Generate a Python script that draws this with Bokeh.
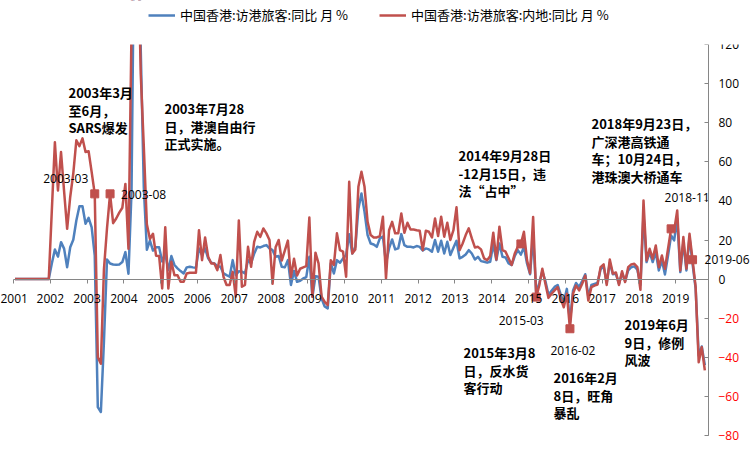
from bokeh.plotting import figure
from bokeh.models import (Range1d, FixedTicker, LinearAxis, Label, Legend, LegendItem,
                          ColumnDataSource, BoxAnnotation)
from bokeh.embed import file_html
from bokeh.resources import INLINE

# ---------------- data ----------------
year_labels = ["2001", "2002", "2003", "2004", "2005", "2006", "2007", "2008", "2009", "2010",
               "2011", "2012", "2013", "2014", "2015", "2016", "2017", "2018", "2019"]

# 中国香港:访港旅客:同比 (monthly, 2001-01 .. 2019-10)
total_yoy = [
    0, 0, 0, 0, 0, 0, 0, 0, 0, 0, 0, 0,                                   # 2001
    8, 15.1, 11.5, 18.9, 15.6, 6.1, 16.3, 20.1, 30, 37.3, 37.3, 28.3,      # 2002
    31.3, 26.5, 12, -65.5, -68, -32, 10, 8, 7.5, 7.3, 7.5, 8.7,            # 2003
    13.8, 2.7, 45, 200, 210, 118, 47, 15, 19.7, 14.6, 16.3, 16.3,          # 2004
    9, 13, 4.6, 11.8, 7.2, 5.5, 4.1, 2.9, 6, 6.3, 6, 5.8,                  # 2005
    15.7, 12.3, 15.7, 10.6, 8.4, 8, 6.6, 6.3, 2.9, 2, 1.2, 9.7,            # 2006
    2, 4, 3.8, 2.9, 9.7, 8, 13, 16.5, 16.2, 16.9, 17.4, 15.7,              # 2007
    14.8, 11.4, 11.8, 6.3, 6, 9.7, -3, 4.1, -1.4, -0.9, 0.3, 1,            # 2008
    11.4, -9, 1.5, 1.2, -10, -14, -15, 8, 2.9, 9.7, 8.4, 10.6,             # 2009
    12.3, 23, 13.1, 16.5, 36, 43.8, 34.4, 22.5, 18.2, 17.7, 16.5, 20.8,    # 2010
    21.7, 8, 15.7, 20.3, 15.2, 15.7, 23, 17.4, 16.5, 16.5, 16.2, 16.9,     # 2011
    16.5, 14.6, 15.7, 15.2, 14, 20, 14, 19.6, 13.1, 19.1, 12.3, 16,        # 2012
    19.6, 10.6, 11.4, 12.6, 14.8, 13.1, 10, 11.4, 9.2, 8.9, 8.4, 8.9,      # 2013
    17.9, 9.7, 18.2, 11.4, 11.1, 8, 7.2, 11.8, 14.8, 12.5, 16.5, 8,        # 2014
    2.5, 22, -7, -2, 4, -1, -8, -6, -4, -3, -8, -12,                       # 2015
    -5, -22, -6, -2, -4, -1, 2.5, -9, -3, -2.5, -2, 5,                     # 2016
    6.5, -2, 8.5, 2.5, 2.7, -2.4, 3, -1, 4.4, 6.1, 6.5, 4.8,               # 2017
    -3, 33, 8.7, 13.8, 8.7, 13.8, 4.4, 9.5, 2.4, 12.1, 22.3, 19.8,         # 2018
    30.9, 3.6, 18.9, 4.4, 21.5, 7.8, -4.8, -39, -34.5, -44,                # 2019
]

# 中国香港:访港旅客:内地:同比
mainland_yoy = [
    0, 0, 0, 0, 0, 0, 0, 0, 0, 0, 0, 0,                                   # 2001
    35, 70, 45.3, 65, 45, 25.7, 42, 54, 71, 68, 72, 65,                    # 2002
    65.4, 54.7, 43.6, -40, -43.3, 5, 26, 43.6, 28.6, 31, 34, 36.5,         # 2003
    48.7, 15.5, 128, 210, 180, 105, 68, 28, 20.5, 23.2, 12, 11.8,          # 2004
    -4.8, 26.5, -4.8, 8.9, 2, 2, -1.4, -1.4, 2.9, 3.2, 3.2, 3.2,           # 2005
    25, 9.7, 21.3, 11.4, 8, 8, 4.6, 12.3, 1.2, -3, -3, 3.7,                # 2006
    -9, 30, -3.9, -3, 16.5, 6.3, 19, 24.2, 21.6, 25.9, 23.4, 20,           # 2007
    -2.4, 16.3, 20, 9.5, 14.6, 19.7, 1, 10.4, 1.8, 5.3, 6, 6.6,            # 2008
    31.5, -9, 13.5, 8, -9, -11.6, -13.3, 9.7, 7.2, 23.4, 14.8, 14,         # 2009
    1.2, 49.8, 13.1, 15.2, 47.2, 54.9, 47.2, 29.3, 22.5, 21.3, 21.3, 22,   # 2010
    31.9, 0.3, 25, 29.3, 23.4, 23.4, 33.6, 23.7, 28.8, 25.4, 25.4, 25,     # 2011
    24.7, 14.8, 24.7, 24.2, 21.3, 31, 22, 31.9, 21.7, 28.8, 20, 25,        # 2012
    36.7, 14.8, 18.2, 22.5, 26, 20.8, 16.2, 16.5, 15.2, 10.6, 9.7, 11.8,   # 2013
    23.7, 10, 26.8, 14.8, 14, 10.6, 7.2, 13.1, 16.5, 18, 24.2, 9.7,        # 2014
    3, 31.8, -9.2, -3.3, 5.3, -2.4, -9.6, -7.5, -5.8, -4.1, -10, -14.4,    # 2015
    -7.5, -25.4, -7.5, -3.3, -5.8, -2.4, 1.8, -11, -4.1, -3.3, -2.8, 6.1,  # 2016
    7.5, -3, 10, 2.8, 3.4, -3, 4, -1.5, 6.1, 7.5, 7.8, 6.1,                # 2017
    -5.5, 40.2, 9.5, 15.5, 10.4, 17.2, 6.1, 12.1, 5.3, 15.5, 25.7, 24.9,   # 2018
    35.1, 4.4, 21.5, 5.3, 23.2, 9.9, -4, -42.5, -34.8, -46.7,              # 2019
]

# highlighted months on the mainland series
marker_months = ["2003-03", "2003-08", "2014-10", "2015-03", "2016-02", "2018-11", "2019-06"]

legend_labels = ["中国香港:访港旅客:同比 月 %", "中国香港:访港旅客:内地:同比 月 %"]

y_pos_ticks = [0, 20, 40, 60, 80, 100, 120]
y_neg_ticks = [-80, -60, -40, -20]

# ---------------- layout ----------------
W, H = 751, 449
# pixel box that holds the value area (x: 0..226.7 months, y: -80..120)
BX_L, BX_R, BX_T, BX_B = 13, 708, 44, 435
X0, X1 = 0, 226.7
Y0, Y1 = -80, 120
SX = (BX_R - BX_L) / (X1 - X0)
SY = (BX_B - BX_T) / (Y1 - Y0)

BLUE = "#4F81BD"
RED = "#C0504D"
AXIS = "#868686"


def to_data(px, py):
    return (X0 + (px - BX_L) / SX, Y1 - (py - BX_T) / SY)


xr = Range1d(X0 - BX_L / SX, X1 + (W - BX_R) / SX)
yr = Range1d(Y0 - (H - BX_B) / SY, Y1 + BX_T / SY)

n = len(total_yoy)
month_names = ["%d-%02d" % (2001 + i // 12, i % 12 + 1) for i in range(n)]
xs = [i + 0.5 for i in range(n)]

src = ColumnDataSource(dict(x=xs, total=total_yoy, mainland=mainland_yoy, month=month_names))

p = figure(width=W, height=H, output_backend="svg", toolbar_location=None, title=None,
           x_range=xr, y_range=yr, x_axis_location=None, y_axis_location=None,
           min_border=0, min_border_left=0, min_border_right=0,
           min_border_top=0, min_border_bottom=0)
p.outline_line_color = None
p.xgrid.visible = False
p.ygrid.visible = False
p.background_fill_color = "white"
p.border_fill_color = "white"

blue_r = p.line("x", "total", source=src, line_color=BLUE, line_width=2.5, line_join="round")
red_r = p.line("x", "mainland", source=src, line_color=RED, line_width=2.5, line_join="round")

# markers
mk_idx = [month_names.index(m) for m in marker_months]
mk_src = ColumnDataSource(dict(x=[xs[i] for i in mk_idx], y=[mainland_yoy[i] for i in mk_idx]))
p.scatter("x", "y", source=mk_src, marker="square", size=8, fill_color=RED, line_color=RED)

# the value area ends at 120: mask everything above it
p.add_layout(BoxAnnotation(bottom=Y1, fill_color="white", fill_alpha=1.0, line_alpha=0,
                           level="overlay"))

# x axis crossing at zero
xaxis = LinearAxis(fixed_location=0, bounds=(X0, X1))
xaxis.ticker = FixedTicker(ticks=[12 * k for k in range(len(year_labels))])
xaxis.major_label_overrides = {12 * k: lab for k, lab in enumerate(year_labels)}
xaxis.minor_tick_line_color = None
xaxis.axis_line_color = AXIS
xaxis.major_tick_line_color = AXIS
xaxis.major_tick_in = 0
xaxis.major_tick_out = 4
xaxis.major_label_standoff = 11
xaxis.major_label_text_font = "Open Sans"
xaxis.major_label_text_font_size = "12px"
xaxis.major_label_text_color = "black"
p.add_layout(xaxis, "below")

# right y axes (positive labels black, negative labels red)
for ticks, col in ((y_pos_ticks, "black"), (y_neg_ticks, "#FF0000")):
    ax = LinearAxis(fixed_location=X1, bounds=(Y0, Y1))
    ax.ticker = FixedTicker(ticks=ticks)
    ax.minor_tick_line_color = None
    ax.axis_line_color = AXIS
    ax.major_tick_line_color = AXIS
    ax.major_tick_in = 4
    ax.major_tick_out = 0
    ax.major_label_standoff = 10
    ax.major_label_text_font = "Open Sans"
    ax.major_label_text_font_size = "12px"
    ax.major_label_text_color = col
    p.add_layout(ax, "right")

# legend
legend = Legend(items=[LegendItem(label=legend_labels[0], renderers=[blue_r]),
                       LegendItem(label=legend_labels[1], renderers=[red_r])],
                orientation="horizontal", location=(148, H - 24),
                glyph_width=27, glyph_height=16, label_height=16, label_standoff=5,
                spacing=31, padding=0, margin=0,
                label_text_font="Noto Sans CJK SC", label_text_font_size="13px",
                label_text_color="black", background_fill_alpha=0, border_line_alpha=0,
                level="overlay")
p.add_layout(legend)

# data labels on the markers: (month, text, dx px, dy px, align)
data_labels = [
    ("2003-03", "2003-03", -29, -15, "center"),
    ("2003-08", "2003-08", 11, 1, "left"),
    ("2015-03", "2015-03", -15, 23, "center"),
    ("2016-02", "2016-02", 3, 22, "center"),
    ("2018-11", "2018-11", 16, -31, "center"),
    ("2019-06", "2019-06", 12, 0, "left"),
]
for m, txt, dx, dy, al in data_labels:
    i = month_names.index(m)
    p.add_layout(Label(x=xs[i], y=mainland_yoy[i], x_offset=dx, y_offset=-dy, text=txt,
                       text_align=al, text_baseline="middle", text_font="Open Sans",
                       text_font_size="12px", text_color="black"))

# event annotations: (left px, first line center px, lines)
events = [
    ((68, 92), ["2003年3月", "至6月，", "SARS爆发"]),
    ((164, 108), ["2003年7月28", "日，港澳自由行", "正式实施。"]),
    ((458, 155), ["2014年9月28日", "-12月15日，违", "法“占中”"]),
    ((591, 123), ["2018年9月23日，", "广深港高铁通", "车；10月24日，", "港珠澳大桥通车"]),
    ((463, 352), ["2015年3月8", "日，反水货", "客行动"]),
    ((553, 377), ["2016年2月", "8日，旺角", "暴乱"]),
    ((624, 324), ["2019年6月", "9日，修例", "风波"]),
]
LINE_STEP = 17.6
for (px, py), lines in events:
    for k, line in enumerate(lines):
        x, y = to_data(px, py + k * LINE_STEP)
        p.add_layout(Label(x=x, y=y, text=line, text_align="left", text_baseline="middle",
                           text_font="Noto Sans CJK SC", text_font_style="bold",
                           text_font_size="13px", text_color="black"))

open("out.html", "w").write(file_html(p, INLINE))
